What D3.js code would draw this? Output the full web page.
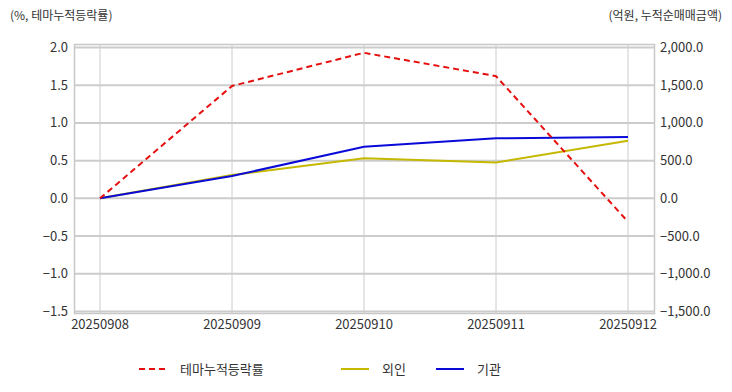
<!DOCTYPE html>
<html><head><meta charset="utf-8">
<script src="https://cdn.jsdelivr.net/npm/d3@7"></script>
<style>
body{margin:0;background:#fff;}
text{font-family:"Noto Sans CJK KR","Noto Sans",sans-serif;}
</style></head>
<body><svg id="c" width="732" height="392"></svg>
<script>
const dates = ["20250908","20250909","20250910","20250911","20250912"];
const themeReturn = [0, 1.49, 1.93, 1.62, -0.31];
const foreign = [0, 310, 532, 474, 765];
const institution = [0, 296, 685, 796, 815];
const leftTicks = [-1.5,-1.0,-0.5,0.0,0.5,1.0,1.5,2.0];
const rightTicks = [-1500,-1000,-500,0,500,1000,1500,2000];
const seriesNames = ["테마누적등락률","외인","기관"];
const colors = ["#e60f0f","#c5b800","#0a0ad8"];

const svg = d3.select("#c");
const L=74, R=655, T=44, B=314;
const x = d3.scalePoint().domain(dates).range([100,628]);
const yL = d3.scaleLinear().domain([-1.5,2.0]).range([311.5,47.5]);
const yR = d3.scaleLinear().domain([-1500,2000]).range([311.5,47.5]);

// frame
svg.append("rect").attr("x",L+0.5).attr("y",T+0.5).attr("width",R-L-1).attr("height",B-T-1)
  .attr("fill","none").attr("stroke","#c8c8c8").attr("stroke-width",1.5);
// horizontal grid
svg.append("g").selectAll("line").data(leftTicks).join("line")
  .attr("x1",L).attr("x2",R).attr("y1",d=>yL(d)).attr("y2",d=>yL(d))
  .attr("stroke","#cccccc").attr("stroke-width",2);
// vertical grid
svg.append("g").selectAll("line").data(dates).join("line")
  .attr("x1",d=>x(d)).attr("x2",d=>x(d)).attr("y1",T).attr("y2",B)
  .attr("stroke","#cccccc").attr("stroke-width",1);

// axes labels
const fmtL = d3.format(".1f");
svg.append("g").selectAll("text").data(leftTicks).join("text")
  .attr("x",68).attr("y",d=>yL(d)).attr("dy","0.35em").attr("text-anchor","end")
  .attr("font-size",13).attr("fill","#333").text(d=>fmtL(d));
const fmtR = d3.format(",.1f");
svg.append("g").selectAll("text").data(rightTicks).join("text")
  .attr("x",660).attr("y",d=>yR(d)).attr("dy","0.35em").attr("text-anchor","start")
  .attr("font-size",13).attr("fill","#333").text(d=>fmtR(d));
svg.append("g").selectAll("text").data(dates).join("text")
  .attr("x",d=>x(d)).attr("y",324).attr("dy","0.35em").attr("text-anchor","middle")
  .attr("font-size",13).attr("fill","#333").text(d=>d);

svg.append("text").attr("x",10).attr("y",16).attr("dy","0.35em").attr("font-size",12)
  .attr("fill","#333").text("(%, 테마누적등락률)");
svg.append("text").attr("x",722).attr("y",16).attr("dy","0.35em").attr("text-anchor","end")
  .attr("font-size",12).attr("fill","#333").text("(억원, 누적순매매금액)");

// lines
const lineL = d3.line().x((d,i)=>x(dates[i])).y(d=>yL(d));
const lineR = d3.line().x((d,i)=>x(dates[i])).y(d=>yR(d));
svg.append("path").datum(foreign).attr("d",lineR).attr("fill","none")
  .attr("stroke",colors[1]).attr("stroke-width",2);
svg.append("path").datum(institution).attr("d",lineR).attr("fill","none")
  .attr("stroke",colors[2]).attr("stroke-width",2);
svg.append("path").datum(themeReturn).attr("d",lineL).attr("fill","none")
  .attr("stroke",colors[0]).attr("stroke-width",2).attr("stroke-dasharray","6,4");

// legend
const leg = [{x:139,tx:180},{x:341,tx:382},{x:436,tx:477}];
leg.forEach((p,i)=>{
  svg.append("line").attr("x1",p.x).attr("x2",p.x+28).attr("y1",369).attr("y2",369)
    .attr("stroke",colors[i]).attr("stroke-width",2)
    .attr("stroke-dasharray", i===0?"6,4":null);
  svg.append("text").attr("x",p.tx).attr("y",369).attr("dy","0.35em").attr("font-size",13)
    .attr("fill","#333").text(seriesNames[i]);
});
</script></body></html>
